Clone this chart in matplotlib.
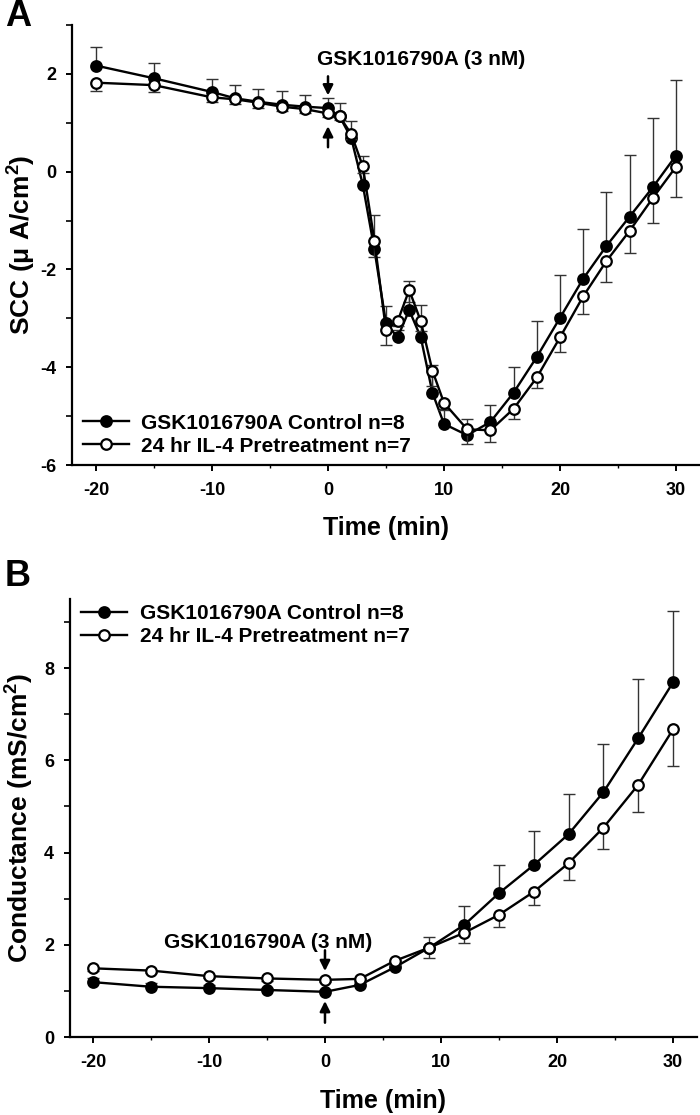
import matplotlib
matplotlib.use("Agg")
import matplotlib.pyplot as plt
import numpy as np

# ---------------- data ----------------
A_time = [-20, -15, -10, -8, -6, -4, -2, 0, 1, 2, 3, 4, 5, 6, 7, 8, 9, 10, 12, 14, 16, 18, 20, 22, 24, 26, 28, 30]
A_ctrl = [2.17, 1.91, 1.63, 1.50, 1.43, 1.37, 1.33, 1.30, 1.13, 0.69, -0.27, -1.59, -3.10, -3.39, -2.83, -3.39,
          -4.52, -5.16, -5.39, -5.12, -4.52, -3.79, -2.99, -2.19, -1.52, -0.92, -0.32, 0.33]
A_ctrl_sem = [0.37, 0.31, 0.26, 0.28, 0.26, 0.28, 0.23, 0.20, 0.27, 0.35, 0.60, 0.70, 0.36, 0.15, 0.60, 0.67,
              0.57, 0.30, 0.34, 0.35, 0.53, 0.74, 0.87, 1.01, 1.10, 1.26, 1.41, 1.55]
A_il4 = [1.82, 1.77, 1.52, 1.48, 1.41, 1.33, 1.28, 1.19, 1.13, 0.77, 0.11, -1.41, -3.24, -3.06, -2.42, -3.06,
         -4.07, -4.73, -5.27, -5.29, -4.85, -4.21, -3.39, -2.55, -1.83, -1.21, -0.54, 0.10]
A_il4_sem = [0.18, 0.15, 0.10, 0.10, 0.10, 0.09, 0.08, 0.08, 0.08, 0.10, 0.14, 0.34, 0.31, 0.10, 0.25, 0.20,
             0.31, 0.15, 0.30, 0.24, 0.20, 0.21, 0.29, 0.37, 0.43, 0.46, 0.50, 0.62]

B_time = [-20, -15, -10, -5, 0, 3, 6, 9, 12, 15, 18, 21, 24, 27, 30]
B_ctrl = [1.19, 1.09, 1.06, 1.02, 0.98, 1.13, 1.51, 1.94, 2.43, 3.12, 3.73, 4.40, 5.31, 6.48, 7.69]
B_ctrl_sem = [0.10, 0.09, 0.06, 0.05, 0.05, 0.07, 0.10, 0.22, 0.41, 0.60, 0.74, 0.87, 1.04, 1.28, 1.55]
B_il4 = [1.49, 1.44, 1.32, 1.27, 1.24, 1.26, 1.65, 1.94, 2.26, 2.65, 3.15, 3.77, 4.54, 5.47, 6.67]
B_il4_sem = [0.05, 0.05, 0.05, 0.05, 0.05, 0.05, 0.08, 0.23, 0.23, 0.26, 0.29, 0.36, 0.46, 0.60, 0.79]

labels = ["GSK1016790A Control n=8", "24 hr IL-4 Pretreatment n=7"]
drug_text = "GSK1016790A (3 nM)"

# ---------------- style ----------------
plt.rcParams['font.family'] = ['Liberation Sans', 'DejaVu Sans']
plt.rcParams['font.weight'] = 'bold'
plt.rcParams['axes.unicode_minus'] = False
plt.rcParams['mathtext.fontset'] = 'custom'
plt.rcParams['mathtext.rm'] = 'Liberation Sans:bold'
plt.rcParams['mathtext.it'] = 'Liberation Sans:bold'
plt.rcParams['mathtext.bf'] = 'Liberation Sans:bold'

W, H = 700, 1115
fig = plt.figure(figsize=(W / 100, H / 100), dpi=100)

axA = fig.add_axes([72 / W, 1 - 465 / H, 628 / W, 440 / H])
axB = fig.add_axes([70 / W, 1 - 1037 / H, 627 / W, 438 / H])

ERRC = '#333333'


def draw_series(ax, t, y, sem, filled, z):
    t = np.asarray(t)
    y = np.asarray(y)
    sem = np.asarray(sem)
    zeros = np.zeros_like(sem)
    yerr = [zeros, sem] if filled else [sem, zeros]
    _, caps, _ = ax.errorbar(t, y, yerr=yerr, fmt='none', ecolor=ERRC, elinewidth=1.0,
                             capsize=4.5, capthick=1.0, zorder=z)
    if filled:
        caps[0].set_visible(False)
    else:
        caps[1].set_visible(False)
    ax.plot(t, y, '-o', color='black', lw=1.7, ms=7.6, mew=1.6,
            mfc='black' if filled else 'white', mec='black', zorder=z + 1,
            label=labels[0] if filled else labels[1])


def style_axes(ax, xlim, ylim, ymaj, ymin):
    ax.set_xlim(*xlim)
    ax.set_ylim(*ylim)
    for s in ['top', 'right']:
        ax.spines[s].set_visible(False)
    for s in ['left', 'bottom']:
        ax.spines[s].set_linewidth(1.6)
    ax.set_xticks([-20, -10, 0, 10, 20, 30])
    ax.set_xticks([-15, -5, 5, 15, 25], minor=True)
    ax.set_yticks(ymaj)
    ax.set_yticks(ymin, minor=True)
    ax.tick_params(axis='both', which='major', direction='out', length=4.5, width=1.4,
                   labelsize=13)
    ax.tick_params(axis='x', which='major', pad=8)
    ax.tick_params(axis='y', which='major', pad=7)
    ax.tick_params(axis='y', which='minor', direction='out', length=4.5, width=1.2)
    ax.tick_params(axis='x', which='minor', direction='out', length=2.5, width=1.0)
    for lab in ax.get_xticklabels() + ax.get_yticklabels():
        lab.set_fontweight('bold')


arrow = dict(arrowstyle='-|>', color='black', lw=1.8, mutation_scale=15, shrinkA=0, shrinkB=0)

# ---------------- panel A ----------------
draw_series(axA, A_time, A_ctrl, A_ctrl_sem, True, 2)
draw_series(axA, A_time, A_il4, A_il4_sem, False, 4)
style_axes(axA, (-22.07, 32.07), (-6, 3), [-6, -4, -2, 0, 2], [-5, -3, -1, 1, 3])
axA.set_xlabel('Time (min)', fontsize=18, fontweight='bold', va='center')
axA.xaxis.set_label_coords(0.5, -0.143)
axA.set_ylabel('SCC (\u03bc A/cm$^{2}$)', fontsize=19, fontweight='bold', va='center')
axA.yaxis.set_label_coords(-0.079, 0.5)
axA.text(-0.95, 2.30, drug_text, ha='left', va='center', fontsize=15, fontweight='bold')
axA.annotate('', xy=(0, 1.56), xytext=(0, 1.95), arrowprops=arrow)
axA.annotate('', xy=(0, 0.93), xytext=(0, 0.50), arrowprops=arrow)
legA = axA.legend(loc='lower left', bbox_to_anchor=(0.0175, 0.021), frameon=False, fontsize=15,
                  handlelength=2.2, handletextpad=0.6, labelspacing=0.2, borderpad=0.0,
                  borderaxespad=0.0)
for txt in legA.get_texts():
    txt.set_fontweight('bold')

# ---------------- panel B ----------------
draw_series(axB, B_time, B_ctrl, B_ctrl_sem, True, 2)
draw_series(axB, B_time, B_il4, B_il4_sem, False, 4)
style_axes(axB, (-21.98, 32.07), (0, 9.5), [0, 2, 4, 6, 8], [1, 3, 5, 7, 9])
axB.set_xlabel('Time (min)', fontsize=18, fontweight='bold', va='center')
axB.xaxis.set_label_coords(0.5, -0.145)
axB.set_ylabel('Conductance (mS/cm$^{2}$)', fontsize=19, fontweight='bold', va='center')
axB.yaxis.set_label_coords(-0.08, 0.5)
axB.text(4.1, 2.04, drug_text, ha='right', va='center', fontsize=15, fontweight='bold')
axB.annotate('', xy=(0, 1.43), xytext=(0, 1.88), arrowprops=arrow)
axB.annotate('', xy=(0, 0.78), xytext=(0, 0.31), arrowprops=arrow)
legB = axB.legend(loc='upper left', bbox_to_anchor=(0.018, 0.988), frameon=False, fontsize=15,
                  handlelength=2.2, handletextpad=0.6, labelspacing=0.2, borderpad=0.0,
                  borderaxespad=0.0)
for txt in legB.get_texts():
    txt.set_fontweight('bold')

# panel letters
fig.text(5 / W, 1 - 16 / H, 'A', fontsize=26, fontweight='bold', ha='left', va='center')
fig.text(5 / W, 1 - 577 / H, 'B', fontsize=26, fontweight='bold', ha='left', va='center')

fig.savefig('out.png', dpi=100)
